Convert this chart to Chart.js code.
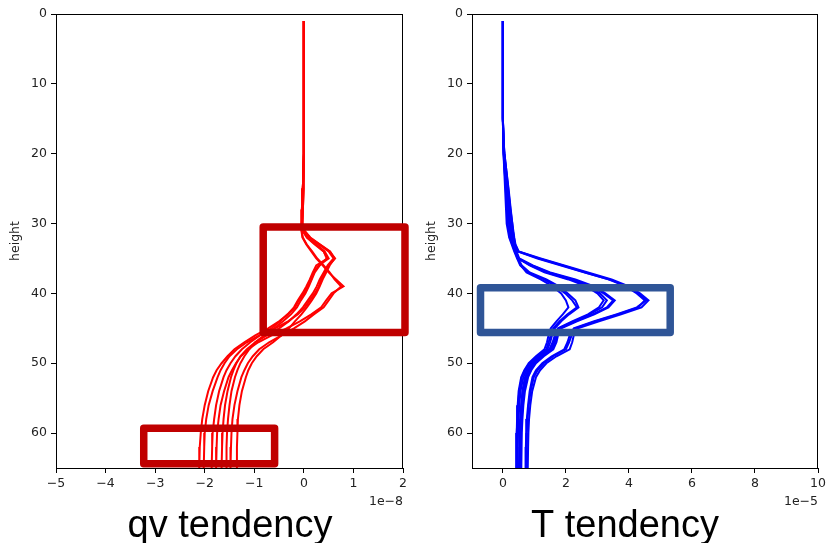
<!DOCTYPE html>
<html><head><meta charset="utf-8">
<script src="https://cdn.jsdelivr.net/npm/chart.js@4.4.0/dist/chart.umd.min.js"></script>
<style>
html,body{margin:0;padding:0;background:#fff;}
#wrap{position:relative;width:829px;height:543px;overflow:hidden;background:#fff;}
canvas{position:absolute;top:0;}
</style></head><body>
<div id="wrap">
<canvas id="c1" width="415" height="543" style="left:0;width:415px;height:543px"></canvas>
<canvas id="c2" width="414" height="543" style="left:415px;width:414px;height:543px"></canvas>
</div>
<script>
// ---------- DATA ----------
// qv tendency (units of 1e-8) at model heights
const H_QV = [1,10,20,25,28,30,31,32,33,34,35,36,37,38,39,40,41,42,43,44,45,46,47,48,49,50,51,52,54,56,58,60,62,65];
const qv1 = [0,0,0,-0.02,-0.03,-0.04,-0.02,0.08,0.25,0.42,0.5,0.3,0.2,0.15,0.08,0.0,-0.1,-0.18,-0.32,-0.5,-0.72,-0.98,-1.2,-1.4,-1.54,-1.66,-1.76,-1.83,-1.93,-2.0,-2.05,-2.08,-2.1,-2.11];
const qv2 = [0,0,0,-0.02,-0.03,-0.03,0,0.12,0.32,0.52,0.63,0.5,0.42,0.35,0.3,0.22,0.12,0.02,-0.12,-0.32,-0.58,-0.9,-1.15,-1.35,-1.5,-1.6,-1.68,-1.74,-1.84,-1.92,-1.97,-2.0,-2.01,-2.02];
const qv3 = [0,0,0,-0.02,-0.03,-0.04,-0.03,0.06,0.22,0.4,0.48,0.25,0.18,0.12,0.05,-0.03,-0.12,-0.2,-0.33,-0.48,-0.65,-0.88,-1.08,-1.25,-1.38,-1.48,-1.56,-1.62,-1.71,-1.77,-1.81,-1.84,-1.85,-1.86];
const qv4 = [0,0,0,-0.02,-0.04,-0.05,-0.05,-0.03,0.05,0.15,0.25,0.38,0.5,0.65,0.8,0.56,0.45,0.35,0.15,-0.08,-0.35,-0.65,-0.92,-1.12,-1.27,-1.37,-1.45,-1.52,-1.61,-1.68,-1.72,-1.75,-1.76,-1.77];
const qv5 = [0,0,0,-0.01,-0.02,-0.03,0,0.1,0.3,0.5,0.6,0.48,0.4,0.32,0.26,0.18,0.08,-0.02,-0.15,-0.3,-0.5,-0.75,-0.98,-1.15,-1.28,-1.36,-1.42,-1.47,-1.54,-1.59,-1.62,-1.64,-1.65,-1.66];
const qv6 = [0,0,0,-0.02,-0.03,-0.04,-0.02,0.07,0.24,0.4,0.46,0.32,0.22,0.16,0.1,0.03,-0.06,-0.14,-0.26,-0.42,-0.6,-0.8,-0.98,-1.1,-1.2,-1.28,-1.34,-1.39,-1.46,-1.5,-1.53,-1.55,-1.56,-1.56];
const qv7 = [0,0,0,-0.02,-0.04,-0.05,-0.04,-0.02,0.06,0.17,0.27,0.4,0.52,0.62,0.75,0.6,0.5,0.4,0.2,0.02,-0.2,-0.45,-0.7,-0.9,-1.03,-1.13,-1.2,-1.26,-1.34,-1.4,-1.44,-1.46,-1.47,-1.48];
const qv8 = [0,0,0,-0.01,-0.02,-0.03,0.01,0.13,0.33,0.53,0.62,0.52,0.45,0.38,0.32,0.25,0.16,0.06,-0.05,-0.18,-0.3,-0.45,-0.62,-0.82,-0.95,-1.05,-1.12,-1.17,-1.25,-1.3,-1.33,-1.34,-1.35,-1.35];

// T tendency (units of 1e-5) at model heights
const H_T = [1,10,15,18,20,22,25,28,30,32,33,34,35,36,37,38,39,40,41,42,43,44,45,46,47,48,49,50,51,52,54,56,58,60,62,65];
const t1  = [0,0,0,0.02,0.05,0.1,0.18,0.25,0.3,0.36,0.4,0.5,1.2,1.95,2.7,3.45,4.0,4.35,4.62,4.4,3.75,3.05,2.38,2.25,2.2,2.12,1.7,1.38,1.18,1.05,0.93,0.87,0.83,0.81,0.8,0.79];
const t2  = [0,0,0,0.01,0.03,0.07,0.14,0.2,0.26,0.33,0.38,0.47,1.1,1.85,2.6,3.35,3.9,4.25,4.5,4.3,3.65,2.95,2.3,2.18,2.1,2.0,1.6,1.3,1.1,0.98,0.88,0.82,0.78,0.76,0.75,0.74];
const t3  = [0,0,0,0.02,0.04,0.09,0.16,0.23,0.28,0.35,0.39,0.49,1.15,1.9,2.62,3.38,3.95,4.3,4.55,4.25,3.6,2.9,2.25,2.12,2.05,1.95,1.55,1.25,1.05,0.94,0.85,0.8,0.76,0.74,0.73,0.72];
const t4  = [0,0,0,0.01,0.02,0.05,0.1,0.15,0.2,0.28,0.33,0.4,0.47,0.92,1.45,2.22,2.82,3.2,3.5,3.3,2.85,2.3,1.8,1.72,1.65,1.55,1.25,1.0,0.86,0.76,0.66,0.62,0.6,0.58,0.57,0.56];
const t5  = [0,0,0,0.02,0.04,0.08,0.15,0.22,0.27,0.32,0.36,0.42,0.5,0.88,1.38,2.15,2.72,3.08,3.3,3.15,2.75,2.25,1.78,1.68,1.6,1.5,1.2,0.96,0.82,0.72,0.63,0.59,0.56,0.55,0.54,0.53];
const t6  = [0,0,0,0.01,0.03,0.06,0.12,0.18,0.24,0.3,0.35,0.41,0.48,0.85,1.32,2.08,2.65,3.0,3.2,3.05,2.7,2.2,1.75,1.65,1.58,1.48,1.18,0.94,0.8,0.7,0.62,0.58,0.55,0.53,0.52,0.51];
const t7  = [0,0,0,0.02,0.05,0.1,0.17,0.24,0.3,0.34,0.37,0.43,0.52,0.95,1.5,2.3,2.9,3.25,3.55,3.35,2.9,2.35,1.85,1.75,1.7,1.6,1.3,1.05,0.9,0.8,0.7,0.65,0.62,0.6,0.59,0.58];
const t8  = [0,0,0,0.01,0.02,0.04,0.07,0.1,0.12,0.2,0.28,0.36,0.45,0.55,0.8,1.3,1.7,1.98,2.2,2.35,2.05,1.8,1.6,1.52,1.45,1.38,1.1,0.85,0.7,0.6,0.52,0.48,0.46,0.44,0.43,0.42];
const t9  = [0,0,0,0.01,0.03,0.05,0.09,0.13,0.15,0.22,0.3,0.38,0.47,0.57,0.75,1.2,1.58,1.85,2.0,2.08,1.9,1.7,1.52,1.45,1.4,1.32,1.05,0.82,0.68,0.58,0.5,0.47,0.45,0.44,0.43,0.43];
const t10 = [0,0,0,0.02,0.04,0.07,0.12,0.17,0.2,0.25,0.31,0.39,0.48,0.6,0.85,1.38,1.78,2.05,2.3,2.4,2.1,1.85,1.65,1.56,1.5,1.42,1.15,0.9,0.75,0.65,0.56,0.52,0.5,0.48,0.47,0.46];

// tick labels
const QV_XTICKS = [-5,-4,-3,-2,-1,0,1,2];
const T_XTICKS  = [0,2,4,6,8,10];
const Y_TICKS   = [0,10,20,30,40,50,60];

// highlight boxes (data units)
const QV_BOXES = [{x0:-0.82,x1:2.04,y0:30.5,y1:45.6},{x0:-3.23,x1:-0.59,y0:59.3,y1:64.4}];
const T_BOXES  = [{x0:-0.71,x1:5.31,y0:39.2,y1:45.6}];

// ---------- CHARTS ----------
const TICK_FONT = {family:'"DejaVu Sans"', size:12.5};
const TXT = '#222';
const fmt = v => v < 0 ? '\u2212' + Math.abs(v) : String(v);

const decor = {
  id:'decor',
  afterDraw(chart){
    const o = chart.options.plugins.decor;
    const {ctx, chartArea:a} = chart;
    const xs = chart.scales.x, ys = chart.scales.y;
    ctx.save();
    // top & right spines
    ctx.strokeStyle = '#000'; ctx.lineWidth = 1;
    ctx.beginPath();
    ctx.moveTo(a.left, Math.round(a.top)+0.5); ctx.lineTo(a.right, Math.round(a.top)+0.5);
    ctx.moveTo(Math.round(a.right)-0.5, a.top); ctx.lineTo(Math.round(a.right)-0.5, a.bottom);
    ctx.stroke();
    // boxes
    ctx.strokeStyle = o.boxColor; ctx.lineWidth = 7.5; ctx.lineJoin = 'round';
    o.boxes.forEach(b => {
      const px0 = xs.getPixelForValue(b.x0), px1 = xs.getPixelForValue(b.x1);
      const py0 = ys.getPixelForValue(b.y0), py1 = ys.getPixelForValue(b.y1);
      ctx.strokeRect(px0, py0, px1-px0, py1-py0);
    });
    // offset text
    ctx.fillStyle = TXT;
    ctx.font = '12.5px "DejaVu Sans"';
    ctx.textAlign = 'right'; ctx.textBaseline = 'middle';
    ctx.fillText(o.offset, a.right, 502);
    // panel title
    ctx.fillStyle = '#000';
    ctx.font = '38px "Liberation Sans"';
    ctx.textAlign = 'center'; ctx.textBaseline = 'alphabetic';
    ctx.fillText(o.title, o.titleX, 537);
    ctx.restore();
  }
};

function makeChart(id, H, series, color, xmin, xmax, xticks, yWidth, padRight, titlePad, boxes, boxColor, offset, title, titleX){
  const datasets = series.map((s,i) => ({
    label: 'profile ' + (i+1),
    data: H.map((h,j) => ({x: s[j], y: h})),
    borderColor: color, backgroundColor: color,
    borderWidth: 2, pointRadius: 0, showLine: true, tension: 0, fill: false
  }));
  return new Chart(document.getElementById(id), {
    type: 'scatter',
    data: {datasets},
    options: {
      responsive: false, animation: false,
      layout: {padding: {left:0, right:padRight, top:14, bottom:0}},
      plugins: {legend:{display:false}, tooltip:{enabled:false},
        decor: {boxes, boxColor, offset, title, titleX}},
      scales: {
        x: {
          type:'linear', min:xmin, max:xmax,
          afterBuildTicks: s => { s.ticks = xticks.map(v => ({value:v})); },
          afterFit: s => { s.height = 75; },
          ticks: {callback: fmt, font: TICK_FONT, color: TXT, padding: 3, maxRotation: 0, autoSkip: false},
          grid: {display:true, drawOnChartArea:false, drawTicks:true, tickLength:5, tickColor:'#000', tickWidth:1},
          border: {display:true, color:'#000', width:1}
        },
        y: {
          type:'linear', min:0, max:65, reverse:true,
          afterBuildTicks: s => { s.ticks = Y_TICKS.map(v => ({value:v})); },
          afterFit: s => { s.width = yWidth; },
          ticks: {font: TICK_FONT, color: TXT, padding: 4, autoSkip:false},
          grid: {display:true, drawOnChartArea:false, drawTicks:true, tickLength:5, tickColor:'#000', tickWidth:1},
          border: {display:true, color:'#000', width:1},
          title: {display:true, text:'height', font: TICK_FONT, color: TXT, padding:{top:titlePad, bottom:0}}
        }
      }
    },
    plugins: [decor]
  });
}

makeChart('c1', H_QV, [qv1,qv2,qv3,qv4,qv5,qv6,qv7,qv8], '#ff0000', -5, 2, QV_XTICKS, 56, 12, 8.5,
  QV_BOXES, '#c00000', '1e\u22128', 'qv tendency', 230);
makeChart('c2', H_T, [t1,t2,t3,t4,t5,t6,t7,t8,t9,t10], '#0000ff', -0.98, 10, T_XTICKS, 57, 11, 9,
  T_BOXES, '#2f5597', '1e\u22125', 'T tendency', 210);
</script>
</body></html>
